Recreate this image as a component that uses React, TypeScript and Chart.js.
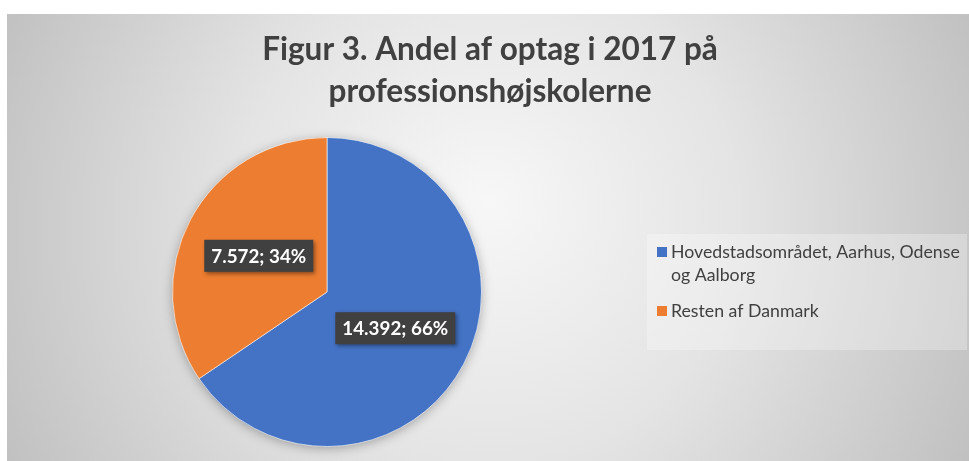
import React, { useEffect, useRef } from "react";
import { Chart, registerables } from "chart.js";
Chart.register(...registerables);

const TITLE_LINES = ["Figur 3. Andel af optag i 2017 på", "professionshøjskolerne"];
const CATEGORIES = ["Hovedstadsområdet, Aarhus, Odense og Aalborg", "Resten af Danmark"];
const VALUES = [14392, 7572];
const COLORS = ["#4472C4", "#ED7D31"];

const FONT = "Lato, 'Open Sans', sans-serif";

function fitSize(ctx: CanvasRenderingContext2D, text: string, weight: string, target: number) {
  ctx.font = `${weight} 100px ${FONT}`;
  const w = ctx.measureText(text).width;
  return (100 * target) / w;
}

function fmt(n: number) {
  return String(n).replace(/\B(?=(\d{3})+(?!\d))/g, ".");
}

function wrap(ctx: CanvasRenderingContext2D, text: string, maxW: number) {
  const words = text.split(" ");
  const lines: string[] = [];
  let cur = "";
  for (const w of words) {
    const t = cur ? cur + " " + w : w;
    if (ctx.measureText(t).width > maxW && cur) {
      lines.push(cur);
      cur = w;
    } else cur = t;
  }
  if (cur) lines.push(cur);
  return lines;
}

const bgPlugin = {
  id: "bg",
  beforeDraw(chart: any) {
    const ctx = chart.ctx as CanvasRenderingContext2D;
    ctx.save();
    const g = ctx.createRadialGradient(487, 200, 0, 487, 237, 560);
    g.addColorStop(0, "#f7f7f7");
    g.addColorStop(0.45, "#e4e4e4");
    g.addColorStop(1, "#bdbdbd");
    ctx.fillStyle = g;
    ctx.fillRect(7, 14, 962, 447);
    ctx.restore();
  },
  beforeDatasetsDraw(chart: any) {
    const ctx = chart.ctx as CanvasRenderingContext2D;
    const arc = chart.getDatasetMeta(0).data[0];
    if (!arc) return;
    ctx.save();
    ctx.shadowColor = "rgba(0,0,0,0.35)";
    ctx.shadowBlur = 12;
    ctx.shadowOffsetY = 2;
    ctx.fillStyle = "#888";
    ctx.beginPath();
    ctx.arc(arc.x, arc.y, arc.outerRadius - 1, 0, Math.PI * 2);
    ctx.fill();
    ctx.restore();
  },
  afterDraw(chart: any) {
    const ctx = chart.ctx as CanvasRenderingContext2D;
    ctx.save();
    // Title
    const ts = fitSize(ctx, TITLE_LINES[0], "bold", 456);
    ctx.font = `bold ${ts}px ${FONT}`;
    ctx.fillStyle = "#404040";
    ctx.textAlign = "center";
    ctx.textBaseline = "alphabetic";
    ctx.fillText(TITLE_LINES[0], 490, 60);
    ctx.fillText(TITLE_LINES[1], 490, 102);

    // Legend
    ctx.fillStyle = "rgba(255,255,255,0.28)";
    ctx.fillRect(647, 234, 320, 116);
    const ls = fitSize(ctx, "Hovedstadsområdet, Aarhus, Odense", "normal", 289);
    ctx.font = `normal ${ls}px ${FONT}`;
    ctx.textAlign = "left";
    let y = 258;
    CATEGORIES.forEach((c, i) => {
      ctx.fillStyle = COLORS[i];
      ctx.fillRect(657, y - 11, 10, 10);
      ctx.fillStyle = "#404040";
      const lines = wrap(ctx, c, 292);
      lines.forEach((ln, j) => {
        ctx.fillText(ln, 671, y + j * 23);
      });
      y += lines.length * 23 + 13;
    });

    // Data labels
    const total = VALUES.reduce((a, b) => a + b, 0);
    const meta = chart.getDatasetMeta(0);
    const ds = fitSize(ctx, "14.392; 66%", "bold", 106);
    ctx.font = `bold ${ds}px ${FONT}`;
    meta.data.forEach((arc: any, i: number) => {
      const p = arc.getCenterPoint();
      const txt = `${fmt(VALUES[i])}; ${Math.round((VALUES[i] / total) * 100)}%`;
      const w = ctx.measureText(txt).width + 14;
      const h = 32;
      ctx.save();
      ctx.shadowColor = "rgba(0,0,0,0.4)";
      ctx.shadowBlur = 4;
      ctx.shadowOffsetX = 2;
      ctx.shadowOffsetY = 2;
      ctx.fillStyle = "#404040";
      ctx.fillRect(p.x - w / 2, p.y - h / 2, w, h);
      ctx.restore();
      ctx.fillStyle = "#ffffff";
      ctx.textAlign = "center";
      ctx.textBaseline = "middle";
      ctx.fillText(txt, p.x, p.y + 1);
    });
    ctx.restore();
  },
};

export default function App() {
  const ref = useRef<HTMLCanvasElement>(null);
  useEffect(() => {
    if (!ref.current) return;
    const chart = new Chart(ref.current, {
      type: "pie",
      data: {
        labels: CATEGORIES,
        datasets: [
          {
            data: VALUES,
            backgroundColor: COLORS,
            borderColor: "rgba(255,255,255,0.6)",
            borderWidth: 1,
          },
        ],
      },
      options: {
        responsive: false,
        animation: false,
        devicePixelRatio: 1,
        layout: { padding: { left: 172, right: 487, top: 137, bottom: 14 } },
        plugins: {
          legend: { display: false },
          title: { display: false },
          tooltip: { enabled: false },
        },
      },
      plugins: [bgPlugin],
    } as any);
    return () => chart.destroy();
  }, []);
  return (
    <div style={{ position: "absolute", left: 0, top: 0, width: 969, height: 461, background: "#fff" }}>
      <canvas ref={ref} width={969} height={461} style={{ width: 969, height: 461, display: "block" }} />
    </div>
  );
}
